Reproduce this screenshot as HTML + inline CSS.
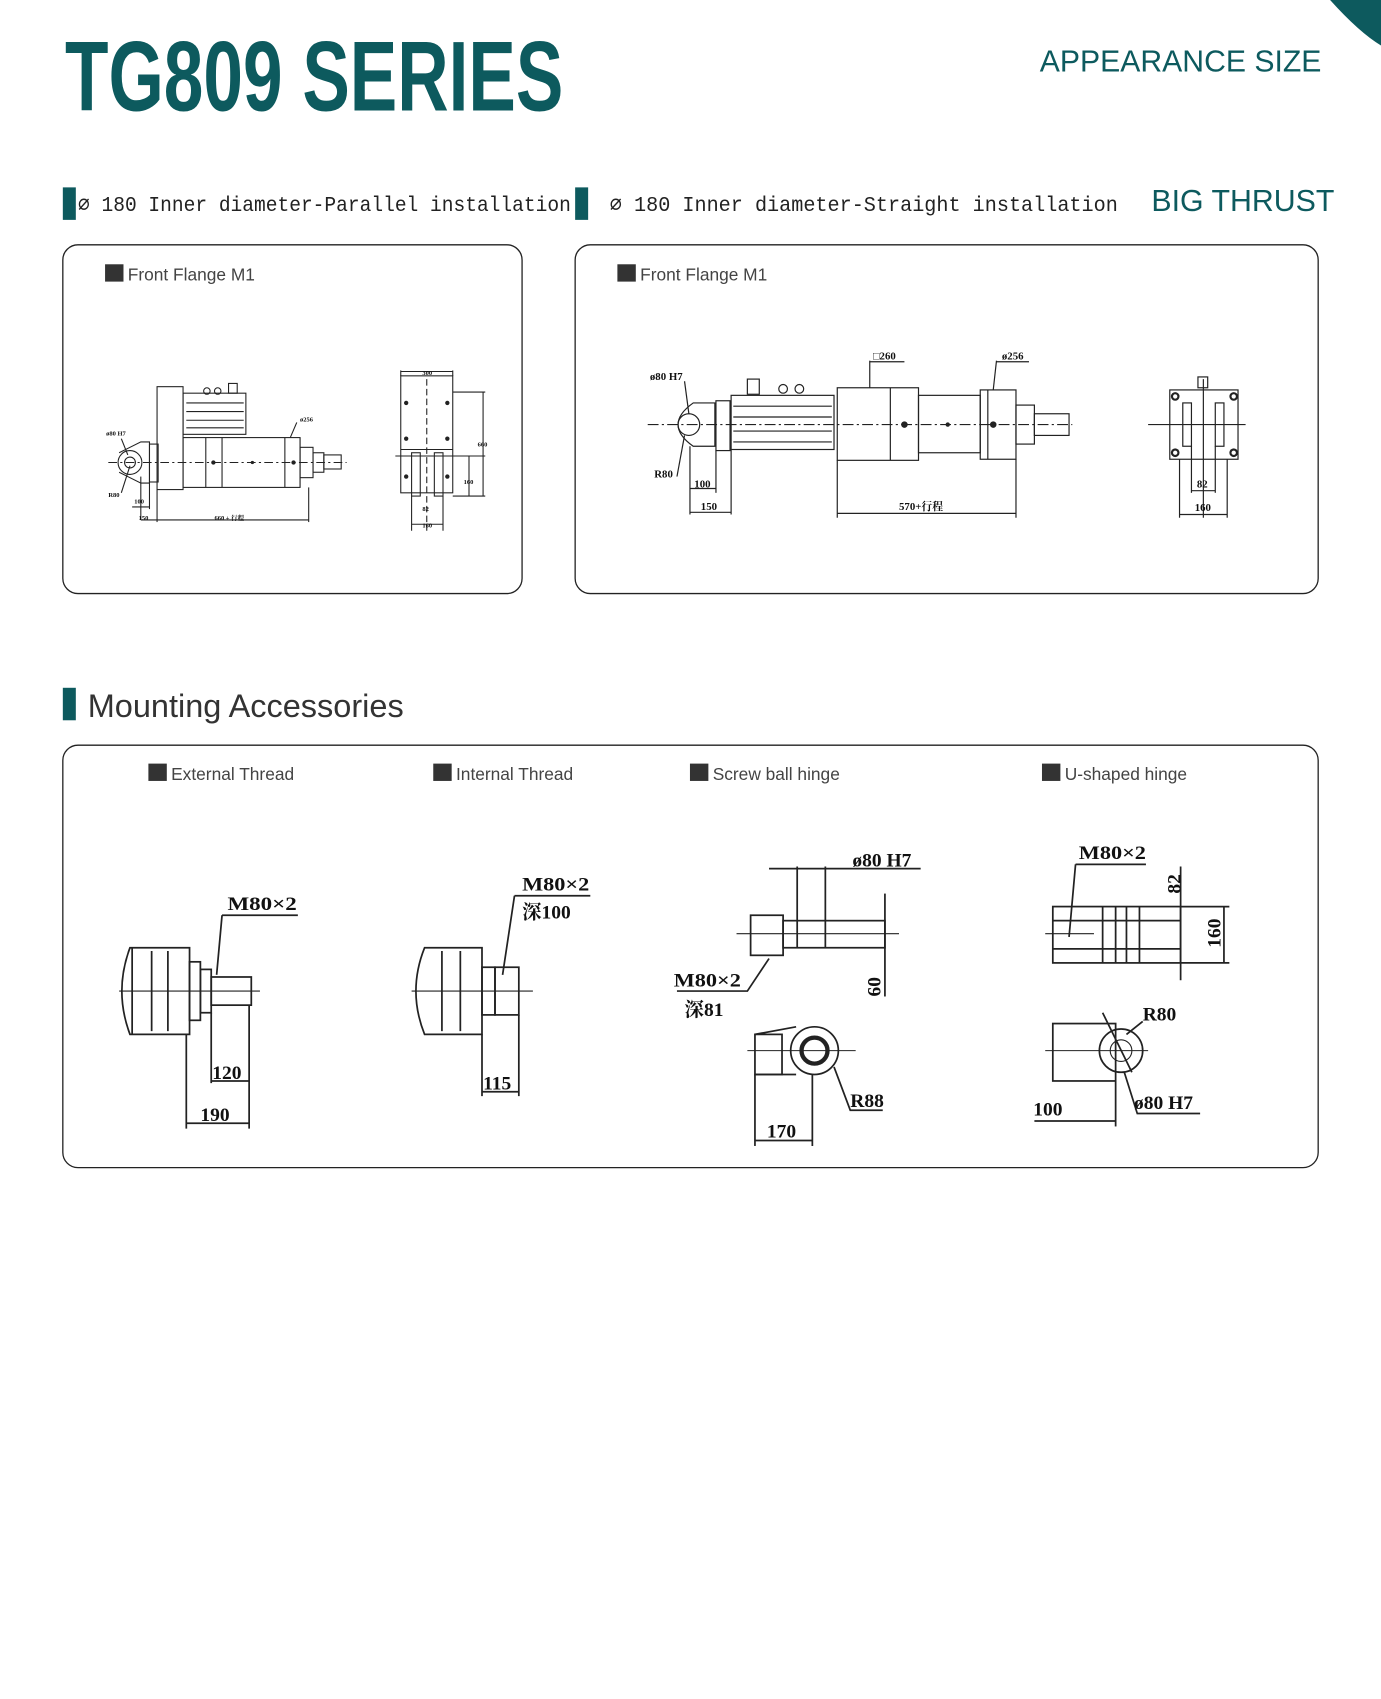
<!DOCTYPE html>
<html><head><meta charset="utf-8">
<style>
html,body{margin:0;padding:0;background:#fff;}
svg{display:block;}
.d{font-family:"Liberation Serif","Noto Serif CJK SC",serif;font-weight:bold;fill:#111;}
.l{font-family:"Liberation Sans","Noto Sans CJK SC",sans-serif;fill:#444;}
</style></head>
<body>
<svg width="1381" height="1699" viewBox="0 0 1275 1568.6" xmlns="http://www.w3.org/2000/svg">
<!-- corner -->
<path d="M1228 0 Q1255 30 1275 42 L1275 0 Z" fill="#0d5a5e"/>
<text x="60" y="102" font-family="Liberation Sans, sans-serif" font-weight="bold" font-size="92" fill="#0d5a5e" transform="translate(60 0) scale(0.86 1) translate(-60 0)" textLength="535" lengthAdjust="spacingAndGlyphs">TG809 SERIES</text>
<text x="960" y="66" font-family="Liberation Sans, sans-serif" font-size="28" fill="#0d5a5e" textLength="260" lengthAdjust="spacingAndGlyphs">APPEARANCE SIZE</text>

<rect x="58" y="173" width="12" height="30" fill="#0d5a5e"/>
<text x="72" y="195" font-family="Liberation Mono, monospace" font-size="20" fill="#222" textLength="455" lengthAdjust="spacingAndGlyphs">∅ 180 Inner diameter-Parallel installation</text>
<rect x="531" y="173" width="12" height="30" fill="#0d5a5e"/>
<text x="563" y="195" font-family="Liberation Mono, monospace" font-size="20" fill="#222" textLength="469" lengthAdjust="spacingAndGlyphs">∅ 180 Inner diameter-Straight installation</text>
<text x="1063" y="195" font-family="Liberation Sans, sans-serif" font-size="28" fill="#0d5a5e" textLength="169" lengthAdjust="spacingAndGlyphs">BIG THRUST</text>

<g fill="none" stroke="#222" stroke-width="1.2">
<rect x="58" y="226" width="424" height="322" rx="14"/>
<rect x="531" y="226" width="686" height="322" rx="14"/>
<rect x="58" y="688" width="1159" height="390" rx="14"/>
</g>
<rect x="97" y="244" width="17" height="16" fill="#333"/><text class="l" x="118" y="259" font-size="16">Front Flange M1</text>
<rect x="570" y="244" width="17" height="16" fill="#333"/><text class="l" x="591" y="259" font-size="16">Front Flange M1</text>

<rect x="58" y="635" width="12" height="30" fill="#0d5a5e"/>
<text x="81" y="662" font-family="Liberation Sans, sans-serif" font-size="30" fill="#333">Mounting Accessories</text>

<rect x="137" y="705" width="17" height="16" fill="#333"/><text class="l" x="158" y="720" font-size="16">External Thread</text>
<rect x="400" y="705" width="17" height="16" fill="#333"/><text class="l" x="421" y="720" font-size="16">Internal Thread</text>
<rect x="637" y="705" width="17" height="16" fill="#333"/><text class="l" x="658" y="720" font-size="16">Screw ball hinge</text>
<rect x="962" y="705" width="17" height="16" fill="#333"/><text class="l" x="983" y="720" font-size="16">U-shaped hinge</text>

<!-- Drawing 1 -->
<g fill="none" stroke="#222" stroke-width="1">
<line x1="100" y1="427" x2="320" y2="427" stroke-dasharray="8 3 2 3"/>
<circle cx="120" cy="427" r="11"/><circle cx="120" cy="427" r="5"/>
<path d="M110 418 L130 408 L138 408 L138 446 L130 446 L110 436"/>
<rect x="138" y="410" width="8" height="35"/>
<rect x="145" y="357" width="24" height="95"/>
<rect x="169" y="363" width="58" height="38"/>
<line x1="172" y1="372" x2="225" y2="372"/><line x1="172" y1="380" x2="225" y2="380"/><line x1="172" y1="388" x2="225" y2="388"/><line x1="172" y1="395" x2="225" y2="395"/>
<circle cx="191" cy="361" r="3"/><circle cx="201" cy="361" r="3"/><rect x="211" y="354" width="8" height="9"/>
<rect x="169" y="404" width="108" height="46"/>
<line x1="190" y1="404" x2="190" y2="450"/><line x1="205" y1="404" x2="205" y2="450"/>
<line x1="263" y1="404" x2="263" y2="450"/><line x1="277" y1="404" x2="277" y2="450"/>
<rect x="277" y="413" width="12" height="28"/><rect x="289" y="418" width="10" height="18"/><rect x="299" y="420" width="16" height="13"/>
<line x1="130" y1="440" x2="130" y2="480"/><line x1="145" y1="452" x2="145" y2="482"/><line x1="285" y1="450" x2="285" y2="482"/>
<line x1="130" y1="480" x2="285" y2="480"/>
<line x1="122" y1="468" x2="138" y2="468"/><line x1="138" y1="446" x2="138" y2="470"/>
<line x1="112" y1="455" x2="120" y2="430"/><line x1="112" y1="405" x2="118" y2="420"/>
<line x1="268" y1="404" x2="274" y2="390"/>
<!-- side -->
<rect x="370" y="347" width="48" height="108"/>
<line x1="394" y1="350" x2="394" y2="490" stroke-dasharray="6 3"/>
<line x1="365" y1="421" x2="448" y2="421"/>
<line x1="370" y1="415" x2="418" y2="415"/>
<rect x="380" y="418" width="8" height="40"/><rect x="401" y="418" width="8" height="40"/>
<line x1="380" y1="458" x2="380" y2="490"/><line x1="409" y1="458" x2="409" y2="490"/>
<line x1="370" y1="347" x2="370" y2="342"/><line x1="418" y1="347" x2="418" y2="342"/><line x1="370" y1="343" x2="418" y2="343"/>
<line x1="418" y1="362" x2="448" y2="362"/><line x1="418" y1="458" x2="448" y2="458"/><line x1="446" y1="362" x2="446" y2="458"/>
<line x1="433" y1="421" x2="433" y2="458"/>
<line x1="380" y1="484" x2="409" y2="484"/>
</g>
<g fill="#222"><circle cx="197" cy="427" r="2"/><circle cx="233" cy="427" r="1.5"/><circle cx="271" cy="427" r="2"/>
<circle cx="375" cy="372" r="2"/><circle cx="413" cy="372" r="2"/><circle cx="375" cy="405" r="2"/><circle cx="413" cy="405" r="2"/><circle cx="375" cy="440" r="2"/><circle cx="413" cy="440" r="2"/></g>
<g class="d" font-size="6"><text x="98" y="402">ø80 H7</text><text x="100" y="459">R80</text><text x="124" y="465">100</text><text x="128" y="480">150</text><text x="198" y="480">660 + 行程</text><text x="277" y="389">ø256</text><text x="390" y="346">300</text><text x="441" y="412">660</text><text x="428" y="447">160</text><text x="390" y="472">82</text><text x="390" y="487">160</text></g>

<!-- Drawing 2 -->
<g fill="none" stroke="#222" stroke-width="1.1">
<line x1="598" y1="392" x2="990" y2="392" stroke-dasharray="10 3 2 3"/>
<circle cx="636" cy="392" r="10"/>
<path d="M640 372 Q612 392 640 412 L660 412 L660 372 Z"/>
<rect x="661" y="370" width="13" height="46"/>
<rect x="675" y="365" width="95" height="50"/>
<line x1="677" y1="375" x2="768" y2="375"/><line x1="677" y1="385" x2="768" y2="385"/><line x1="677" y1="398" x2="768" y2="398"/><line x1="677" y1="408" x2="768" y2="408"/>
<circle cx="723" cy="359" r="4"/><circle cx="738" cy="359" r="4"/><rect x="690" y="350" width="11" height="14"/>
<rect x="773" y="358" width="75" height="67"/><line x1="822" y1="358" x2="822" y2="425"/>
<rect x="848" y="365" width="57" height="53"/>
<rect x="905" y="360" width="33" height="64"/><line x1="912" y1="360" x2="912" y2="424"/>
<rect x="938" y="374" width="17" height="36"/><rect x="955" y="382" width="32" height="20"/>
<line x1="637" y1="412" x2="637" y2="475"/><line x1="675" y1="415" x2="675" y2="475"/><line x1="661" y1="416" x2="661" y2="455"/>
<line x1="637" y1="473" x2="675" y2="473"/><line x1="637" y1="451" x2="661" y2="451"/>
<line x1="773" y1="425" x2="773" y2="478"/><line x1="938" y1="424" x2="938" y2="478"/><line x1="773" y1="474" x2="938" y2="474"/>
<line x1="625" y1="440" x2="632" y2="402"/><line x1="632" y1="352" x2="636" y2="382"/>
<line x1="803" y1="333" x2="803" y2="358"/><line x1="920" y1="333" x2="917" y2="360"/>
<line x1="803" y1="334" x2="835" y2="334"/><line x1="920" y1="334" x2="950" y2="334"/>
<!-- side -->
<rect x="1080" y="360" width="63" height="64"/>
<line x1="1060" y1="392" x2="1150" y2="392"/>
<line x1="1111" y1="350" x2="1111" y2="478"/>
<rect x="1092" y="372" width="8" height="40"/><rect x="1122" y="372" width="8" height="40"/>
<rect x="1106" y="348" width="9" height="10"/>
<line x1="1100" y1="412" x2="1100" y2="455"/><line x1="1122" y1="412" x2="1122" y2="455"/>
<line x1="1089" y1="424" x2="1089" y2="478"/><line x1="1133" y1="424" x2="1133" y2="478"/>
<line x1="1100" y1="453" x2="1122" y2="453"/><line x1="1089" y1="475" x2="1133" y2="475"/>
</g>
<g fill="#222"><circle cx="835" cy="392" r="3"/><circle cx="875" cy="392" r="2"/><circle cx="917" cy="392" r="3"/>
<circle cx="1085" cy="366" r="4"/><circle cx="1139" cy="366" r="4"/><circle cx="1085" cy="418" r="4"/><circle cx="1139" cy="418" r="4"/></g>
<g fill="#fff"><circle cx="1085" cy="366" r="2"/><circle cx="1139" cy="366" r="2"/><circle cx="1085" cy="418" r="2"/><circle cx="1139" cy="418" r="2"/></g>
<g class="d" font-size="10"><text x="600" y="351">ø80 H7</text><text x="604" y="441">R80</text><text x="641" y="450">100</text><text x="647" y="471">150</text><text x="830" y="471">570+行程</text><text x="806" y="332">□260</text><text x="925" y="332">ø256</text><text x="1105" y="450">82</text><text x="1103" y="472">160</text></g>

<!-- Accessories -->
<g fill="none" stroke="#222" stroke-width="1.6">
<!-- external -->
<path d="M120 875 L175 875 L175 955 L120 955 Q105 915 120 875 Z"/>
<line x1="122" y1="875" x2="122" y2="955"/><line x1="140" y1="878" x2="140" y2="952"/><line x1="155" y1="878" x2="155" y2="952"/>
<rect x="175" y="888" width="10" height="54"/><rect x="185" y="895" width="10" height="40"/><rect x="195" y="902" width="37" height="26"/>
<line x1="110" y1="915" x2="240" y2="915" stroke-width="1"/>
<path d="M205 845 L275 845 M205 845 L200 900"/>
<line x1="195" y1="935" x2="195" y2="1000"/><line x1="230" y1="928" x2="230" y2="1042"/><line x1="172" y1="955" x2="172" y2="1042"/>
<line x1="172" y1="1037" x2="230" y2="1037"/><line x1="195" y1="998" x2="230" y2="998"/>
<!-- internal -->
<path d="M392 875 L445 875 L445 955 L392 955 Q376 915 392 875 Z"/>
<line x1="408" y1="878" x2="408" y2="952"/><line x1="425" y1="878" x2="425" y2="952"/>
<rect x="445" y="893" width="12" height="44"/><rect x="457" y="893" width="22" height="44"/>
<line x1="380" y1="915" x2="492" y2="915" stroke-width="1"/>
<path d="M475 827 L545 827 M475 827 L464 900"/>
<line x1="445" y1="955" x2="445" y2="1012"/><line x1="479" y1="937" x2="479" y2="1012"/><line x1="445" y1="1008" x2="479" y2="1008"/>
<!-- screw ball -->
<rect x="693" y="845" width="30" height="37"/>
<rect x="723" y="850" width="94" height="25"/>
<line x1="736" y1="800" x2="736" y2="875"/><line x1="762" y1="800" x2="762" y2="875"/>
<line x1="710" y1="802" x2="850" y2="802"/>
<line x1="817" y1="825" x2="817" y2="920"/>
<line x1="680" y1="862" x2="830" y2="862" stroke-width="1"/>
<path d="M710 885 L690 915 L625 915"/>
<path d="M697 955 L735 948 M697 992 L735 992"/><rect x="697" y="955" width="25" height="37"/>
<circle cx="752" cy="970" r="22"/><circle cx="752" cy="970" r="12" stroke-width="4"/>
<line x1="690" y1="970" x2="790" y2="970" stroke-width="1"/>
<path d="M770 985 L785 1025 L815 1025"/>
<line x1="697" y1="992" x2="697" y2="1058"/><line x1="750" y1="992" x2="750" y2="1058"/><line x1="697" y1="1053" x2="750" y2="1053"/>
<!-- U hinge -->
<rect x="972" y="837" width="118" height="52"/>
<line x1="972" y1="850" x2="1090" y2="850"/><line x1="972" y1="876" x2="1090" y2="876"/>
<line x1="1018" y1="837" x2="1018" y2="889"/><line x1="1030" y1="837" x2="1030" y2="889"/><line x1="1040" y1="837" x2="1040" y2="889"/><line x1="1052" y1="837" x2="1052" y2="889"/>
<line x1="1090" y1="837" x2="1135" y2="837"/><line x1="1090" y1="889" x2="1135" y2="889"/><line x1="1130" y1="837" x2="1130" y2="889"/>
<line x1="1090" y1="800" x2="1090" y2="905"/>
<path d="M993 798 L1058 798 M993 798 L987 865"/>
<line x1="965" y1="862" x2="1010" y2="862" stroke-width="1"/>
<rect x="972" y="945" width="58" height="53"/>
<circle cx="1035" cy="970" r="20"/><circle cx="1035" cy="970" r="10" stroke-width="1"/>
<line x1="965" y1="970" x2="1060" y2="970" stroke-width="1"/>
<path d="M1018 935 L1045 990 M1040 955 L1055 943 M1038 990 L1050 1028 L1108 1028"/>
<line x1="1030" y1="998" x2="1030" y2="1040"/><line x1="955" y1="1035" x2="1030" y2="1035"/>
</g>
<g class="d" font-size="18">
<text x="210" y="840" textLength="64" lengthAdjust="spacingAndGlyphs">M80×2</text>
<text x="196" y="996">120</text><text x="185" y="1035">190</text>
<text x="482" y="822" textLength="62" lengthAdjust="spacingAndGlyphs">M80×2</text><text x="482" y="848">深100</text>
<text x="446" y="1006">115</text>
<text x="787" y="800">ø80 H7</text>
<text x="622" y="911" textLength="62" lengthAdjust="spacingAndGlyphs">M80×2</text><text x="632" y="938">深81</text>
<text x="813" y="920" transform="rotate(-90 813 920)">60</text>
<text x="785" y="1022">R88</text><text x="708" y="1050">170</text>
<text x="996" y="793" textLength="62" lengthAdjust="spacingAndGlyphs">M80×2</text>
<text x="1090" y="825" transform="rotate(-90 1090 825)">82</text>
<text x="1127" y="875" transform="rotate(-90 1127 875)">160</text>
<text x="1055" y="942">R80</text><text x="954" y="1030">100</text><text x="1047" y="1024">ø80 H7</text>
</g>
</svg>
</body></html>
